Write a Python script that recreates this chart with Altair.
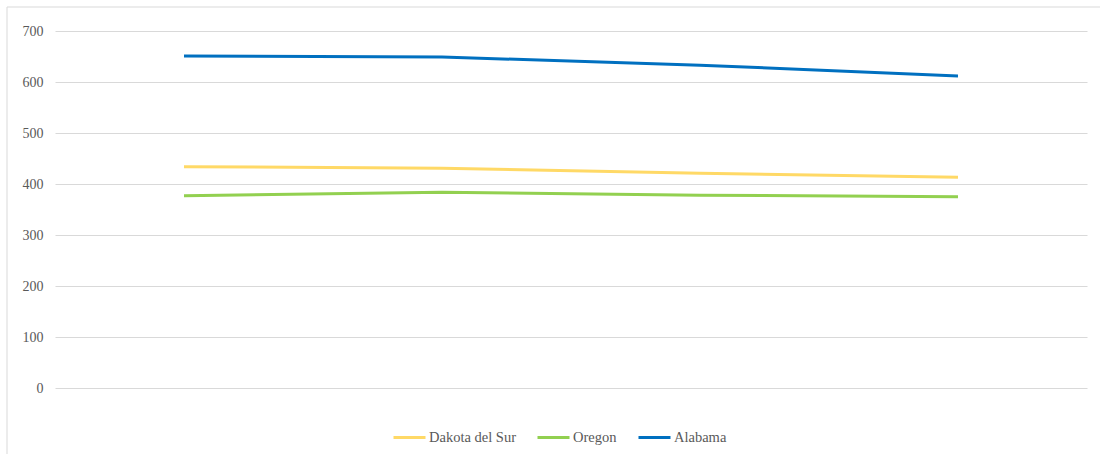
import altair as alt
import pandas as pd

# Four periods along the x axis (the axis itself carries no labels)
periods = ["1", "2", "3", "4"]

# Series values
dakota_del_sur = [434, 431, 421, 413]
oregon = [377, 384, 378, 375]
alabama = [651, 649, 633, 612]

series_names = ["Dakota del Sur", "Oregon", "Alabama"]
series_colors = ["#FFD966", "#92D050", "#0070C0"]

rows = []
for name, vals in zip(series_names, [dakota_del_sur, oregon, alabama]):
    for p, v in zip(periods, vals):
        rows.append({"periodo": p, "valor": v, "serie": name})
df = pd.DataFrame(rows)

FONT = "Liberation Serif"
GREY = "#595959"

lines = alt.Chart(df).mark_line(strokeWidth=3).encode(
    x=alt.X("periodo:O", sort=periods,
            scale=alt.Scale(type="point", padding=0.5), axis=None),
    y=alt.Y("valor:Q", scale=alt.Scale(domain=[0, 700], nice=False),
            axis=alt.Axis(values=[0, 100, 200, 300, 400, 500, 600, 700],
                          title=None, domain=False, ticks=False,
                          labelFont=FONT, labelFontSize=14, labelColor=GREY,
                          labelPadding=12, gridColor="#d9d9d9", gridWidth=1)),
    color=alt.Color("serie:N",
                    scale=alt.Scale(domain=series_names, range=series_colors),
                    legend=alt.Legend(title=None, orient="none",
                                      direction="horizontal",
                                      legendX=337, legendY=389,
                                      symbolType="stroke", symbolSize=1024,
                                      symbolStrokeWidth=3, labelOffset=2,
                                      columnPadding=15, padding=0,
                                      labelFont=FONT, labelFontSize=14.5,
                                      labelColor=GREY)),
)

# Light outer frame (top and left edges)
one = pd.DataFrame({"k": [0]})
frame_top = alt.Chart(one).mark_rule(color="#d9d9d9", strokeWidth=1).encode(
    x=alt.value(-48), x2=alt.value(1045), y=alt.value(-24))
frame_left = alt.Chart(one).mark_rule(color="#d9d9d9", strokeWidth=1).encode(
    x=alt.value(-48), y=alt.value(-24), y2=alt.value(423))

chart = alt.layer(frame_top, frame_left, lines).properties(
    width=1032, height=357,
    background="white",
    autosize=alt.AutoSizeParams(type="none"),
    padding={"left": 55, "top": 31, "right": 13, "bottom": 66},
).configure_view(strokeWidth=0)

chart.save("out.html", embed_options={"renderer": "svg", "actions": False})
